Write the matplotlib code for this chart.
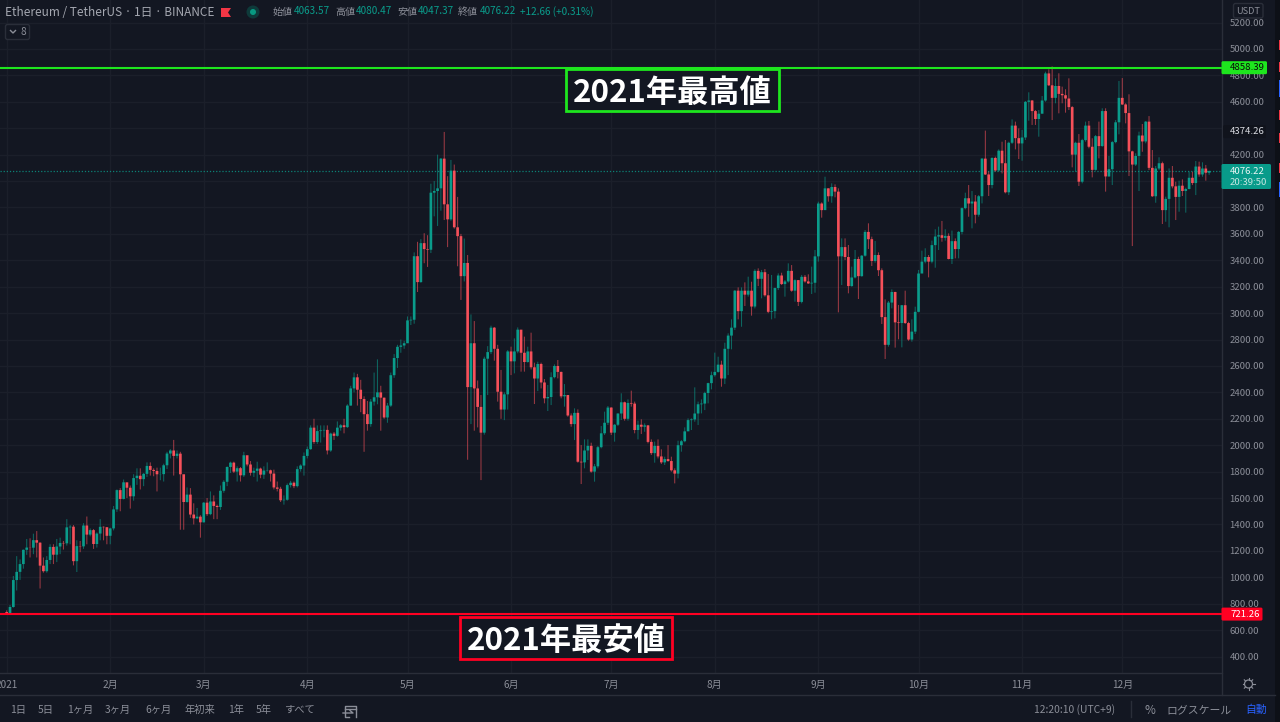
import matplotlib
matplotlib.use("Agg")
import matplotlib.pyplot as plt
from matplotlib.patches import Rectangle, FancyBboxPatch, Circle, Polygon

plt.rcParams['font.family'] = ['Noto Sans CJK JP', 'DejaVu Sans']

# daily candles 2021 (open = previous close)
first_open = 737

close_jan = [729,775,979,1041,1100,1208,1225,1224,1281,1262,1088,1046,1131,1230,1171,1233,1260,1257,1378,1383,1122,1236,1234,1392,1323,1357,1252,1331,1382,1379,1314]
high_jan = [750,790,1010,1160,1135,1210,1290,1295,1330,1350,1265,1150,1160,1250,1250,1290,1300,1275,1440,1395,1395,1280,1275,1410,1460,1370,1365,1340,1440,1385,1380]
low_jan = [716,718,770,900,980,1065,1170,1150,1175,1150,915,1035,1035,1100,1100,1115,1175,1210,1240,1250,1090,1040,1190,1215,1250,1310,1215,1225,1280,1280,1250]

close_feb = [1370,1514,1660,1593,1719,1678,1613,1751,1769,1743,1783,1843,1813,1805,1780,1781,1848,1937,1960,1919,1936,1780,1570,1626,1475,1446,1459,1416]
high_feb = [1375,1540,1665,1675,1740,1690,1695,1780,1825,1825,1790,1870,1870,1825,1830,1830,1860,1950,1970,2040,1960,1950,1700,1680,1675,1560,1525,1470]
low_feb = [1250,1355,1495,1500,1590,1600,1520,1580,1700,1665,1690,1760,1770,1765,1650,1735,1725,1820,1900,1770,1900,1360,1360,1565,1450,1400,1440,1300]

close_mar = [1565,1478,1574,1540,1532,1655,1723,1835,1868,1800,1826,1772,1924,1854,1791,1806,1823,1777,1808,1810,1785,1680,1670,1583,1587,1698,1716,1690,1819,1846,1919]
high_mar = [1570,1600,1650,1620,1550,1695,1735,1840,1875,1875,1840,1835,1950,1890,1880,1830,1875,1830,1840,1870,1815,1815,1725,1685,1620,1710,1730,1725,1840,1855,1945]
low_mar = [1415,1465,1470,1440,1440,1510,1640,1690,1790,1790,1725,1725,1760,1840,1770,1760,1725,1750,1745,1800,1725,1665,1650,1570,1550,1580,1680,1675,1680,1800,1770]

close_apr = [1970,2133,2024,2107,2112,2116,1960,2088,2071,2133,2151,2137,2300,2430,2514,2420,2350,2235,2160,2330,2363,2400,2360,2210,2300,2530,2660,2745,2755,2772]
high_apr = [1990,2150,2200,2150,2150,2150,2150,2095,2100,2180,2160,2200,2310,2450,2550,2540,2495,2370,2335,2350,2550,2650,2450,2360,2320,2550,2690,2760,2800,2790]
low_apr = [1900,1965,2010,2010,2020,2060,1930,1950,2040,2065,2110,2090,2130,2300,2400,2300,2250,1950,2110,2140,2300,2310,2110,2200,2170,2290,2510,2585,2700,2730]

close_may = [2945,2950,3431,3235,3530,3485,3480,3912,3925,3945,4170,3824,3710,4079,3650,3583,3280,3380,2440,2772,2430,2290,2095,2655,2705,2890,2730,2405,2270,2385,2710]
high_may = [2975,2975,3460,3540,3560,3605,3590,3980,4000,4200,4175,4372,4037,4160,4125,3880,3600,3565,3440,2990,2940,2490,2380,2670,2750,2905,2895,2760,2570,2400,2720]
low_may = [2865,2910,2920,3160,3230,3378,3350,3455,3733,3660,3776,3705,3500,3700,3640,3355,3100,3240,1890,2160,2110,2135,1736,2080,2380,2690,2640,2330,2200,2190,2270]

close_jun = [2635,2710,2875,2700,2630,2710,2590,2505,2615,2475,2355,2365,2515,2600,2555,2370,2380,2225,2160,2245,1875,1870,1960,1995,1800,1840,1985,2090,2170,2285]
high_jun = [2746,2809,2892,2865,2822,2746,2852,2625,2632,2625,2501,2456,2552,2612,2645,2557,2463,2380,2241,2279,2271,2001,2044,2044,2019,1858,1994,2145,2254,2297]
low_jun = [2531,2544,2696,2557,2557,2625,2574,2312,2410,2430,2317,2259,2304,2506,2506,2355,2292,2216,2140,2039,1868,1706,1825,1888,1792,1724,1825,1976,2077,2153]

close_jul = [2095,2155,2240,2325,2200,2320,2315,2115,2155,2140,2150,2025,1940,1995,1915,1870,1895,1880,1810,1785,2000,2030,2105,2190,2195,2240,2310,2315,2395,2470,2530]
high_jul = [2287,2160,2241,2393,2330,2347,2413,2330,2186,2196,2165,2153,2044,2027,2044,1969,1913,2001,1913,1825,2034,2039,2135,2203,2203,2438,2330,2347,2405,2473,2557]
low_jul = [2077,2027,2145,2191,2186,2186,2292,2090,2044,2085,2102,2014,1926,1868,1900,1858,1850,1875,1800,1711,1749,1951,2022,2115,2115,2178,2153,2241,2266,2317,2423]

close_aug = [2555,2610,2505,2730,2830,2890,3170,3015,3170,3140,3170,3050,3320,3260,3310,3135,3010,3015,3190,3285,3220,3240,3320,3170,3250,3085,3275,3240,3225,3230,3430]
high_aug = [2701,2670,2640,2776,2847,2953,3175,3195,3195,3233,3276,3238,3332,3339,3327,3334,3296,3289,3193,3301,3306,3251,3377,3364,3256,3251,3289,3289,3294,3352,3478]
low_aug = [2519,2549,2443,2463,2531,2726,2872,2953,2897,3054,3125,2981,3036,3205,3112,3125,3000,2953,2961,3175,3213,3125,3231,3162,3087,3054,3074,3231,3221,3145,3155]

close_sep = [3830,3780,3945,3885,3955,3920,3430,3500,3425,3205,3270,3410,3280,3435,3615,3560,3395,3440,3325,2970,2760,3080,3160,2930,2925,3060,2925,2800,2860,3010]
high_sep = [3844,3839,4033,3945,3983,3975,3945,3566,3566,3516,3352,3478,3427,3440,3629,3680,3579,3546,3460,3339,3104,3092,3180,3162,3062,3062,3170,2935,2953,3049]
low_sep = [3390,3723,3781,3844,3836,3877,3006,3213,3402,3150,3200,3263,3107,3276,3428,3486,3357,3382,3281,2918,2653,2746,3036,2739,2802,2741,2918,2791,2784,2842]

close_oct = [3300,3390,3425,3390,3515,3580,3590,3570,3585,3410,3545,3485,3615,3795,3870,3830,3845,3745,3885,4170,4050,3970,4175,4080,4230,4135,3915,4290,4420,4325,4285]
high_oct = [3327,3473,3491,3440,3549,3635,3655,3698,3635,3604,3625,3566,3622,3800,3912,3970,3925,3894,3894,4175,4382,4071,4180,4185,4240,4298,4311,4298,4467,4450,4399]
low_oct = [3006,3306,3377,3271,3377,3344,3478,3541,3549,3407,3372,3415,3415,3597,3786,3730,3642,3680,3730,3831,4046,3887,3945,4071,4071,4058,3907,3894,4281,4240,4167]

close_nov = [4330,4600,4610,4530,4470,4510,4610,4815,4725,4630,4720,4660,4650,4625,4560,4200,4290,3995,4310,4420,4260,4085,4340,4265,4530,4035,4090,4295,4445,4630]
high_nov = [4387,4606,4672,4614,4538,4538,4644,4828,4846,4868,4778,4816,4715,4695,4778,4568,4298,4356,4320,4450,4455,4324,4349,4450,4551,4551,4190,4303,4462,4758]
low_nov = [4154,4311,4457,4425,4425,4336,4513,4601,4720,4462,4589,4513,4589,4518,4538,4104,4071,3963,3983,4298,4248,4028,4079,4172,4260,3920,4033,3970,4286,4354]

close_dec = [4580,4515,4225,4125,4190,4345,4300,4450,4100,3885,4095,4135,3780,3865,4025,3960,3880,3965,3925,3940,4025,3985,4110,4050,4095,4063,4076]
high_dec = [4780,4589,4657,4230,4210,4374,4432,4455,4492,4235,4114,4180,4147,3882,4096,4114,3995,4003,4013,3950,4071,4071,4152,4147,4142,4122,4080]
low_dec = [4576,4437,4038,3508,4114,3925,4222,4286,4084,3880,3836,4084,3675,3692,3650,3945,3705,3768,3887,3761,3937,3970,3894,4033,4033,4003,4047]

closes = close_jan + close_feb + close_mar + close_apr + close_may + close_jun + close_jul + close_aug + close_sep + close_oct + close_nov + close_dec
highs = high_jan + high_feb + high_mar + high_apr + high_may + high_jun + high_jul + high_aug + high_sep + high_oct + high_nov + high_dec
lows = low_jan + low_feb + low_mar + low_apr + low_may + low_jun + low_jul + low_aug + low_sep + low_oct + low_nov + low_dec
opens = [first_open] + closes[:-1]

month_starts = [0, 31, 59, 90, 120, 151, 181, 212, 243, 273, 304, 334]
month_labels = ["2021", "2月", "3月", "4月", "5月", "6月", "7月", "8月", "9月", "10月", "11月", "12月"]
price_ticks = [400, 600, 800, 1000, 1200, 1400, 1600, 1800, 2000, 2200, 2400, 2600, 2800, 3000, 3200,
               3400, 3600, 3800, 4000, 4200, 4400, 4600, 4800, 5000, 5200]
hidden_ticks = [4000, 4400]  # covered by the price tags in the reference
year_high = 4858.39
year_low = 721.26
last_price = 4076.22
view_high = 4374.26

legend_items = [("始値", 273, "4063.57", 294), ("高値", 335, "4080.47", 356), ("安値", 397, "4047.37", 418), ("終値", 458, "4076.22", 480)]
range_labels = [("1日", 18), ("5日", 46), ("1ヶ月", 80), ("3ヶ月", 118), ("6ヶ月", 158), ("年初来", 200), ("1年", 236), ("5年", 264), ("すべて", 299)]

BG = "#131722"
GRID = "#1b1f2a"
SEP = "#2a2e39"
TXT = "#8b8e98"
UP = "#0a9c8b"
DOWN = "#f6505a"
LIME = "#1ee61e"
RED = "#ff0022"

W, H = 1280, 722
fig = plt.figure(figsize=(W / 100, H / 100), dpi=100, facecolor=BG)

# price chart, area 0..1221.5 x 0..673 px
ax = fig.add_axes([0, 1 - 673 / H, 1221.5 / W, 673 / H], facecolor=BG)
ax.set_xlim(-2.0, 363.7)
ax.set_ylim(275.2, 5371)
ax.grid(True, color=GRID, lw=1)
ax.set_axisbelow(True)
for s in ax.spines.values():
    s.set_visible(False)
ax.set_yticks(price_ticks)
ax.set_yticklabels(["" if p in hidden_ticks else f"{p:.2f}" for p in price_ticks], color=TXT, fontsize=6.9)
ax.yaxis.tick_right()
ax.set_xticks(month_starts)
ax.set_xticklabels(month_labels, color=TXT, fontsize=7.2)
ax.tick_params(axis="both", length=0)
ax.tick_params(axis="y", pad=5.8)
ax.tick_params(axis="x", pad=5)

days = list(range(len(closes)))
for d in days:
    col = UP if closes[d] >= opens[d] else DOWN
    wick = ax.vlines(d, lows[d], highs[d], color=col, lw=0.75, alpha=0.6, zorder=2)
    wick.set_snap(False)
    ax.bar(d, abs(closes[d] - opens[d]), bottom=min(opens[d], closes[d]), width=0.8, color=col, lw=0, zorder=3, snap=False)

ax.axhline(last_price, color=UP, lw=0.9, ls=(0, (1, 1.5)), alpha=0.8, zorder=1)
ax.axhline(year_high, color=LIME, lw=1.5, zorder=4)
ax.axhline(year_low, color=RED, lw=1.5, zorder=4)

# overlay in pixels for the terminal chrome
ov = fig.add_axes([0, 0, 1, 1], facecolor="none")
ov.set_xlim(0, W)
ov.set_ylim(H, 0)
ov.axis("off")


def price_y(p):
    return 673 * (5371 - p) / (5371 - 275.2)


ov.plot([0, 1221.5], [673, 673], color=SEP, lw=1)
ov.plot([1221.5, 1221.5], [0, 695], color=SEP, lw=1)
ov.plot([0, 1275], [695, 695], color=SEP, lw=1)
ov.plot([1131, 1131], [701, 717], color=SEP, lw=1)
ov.add_patch(Rectangle((1275, 0), 5, H, color="#0d1017", lw=0))
for y0, y1, c in [(40, 50, "#f23645"), (62, 72, "#f23645"), (80, 97, "#2962ff"), (110, 120, "#f23645"),
                  (133, 143, "#f23645"), (163, 173, "#f23645"), (182, 197, "#2962ff")]:
    ov.add_patch(Rectangle((1279, y0), 1, y1 - y0, color=c, lw=0))


def tag(x0, x1, y0, y1, col):
    ov.add_patch(FancyBboxPatch((x0, y0), x1 - x0, y1 - y0, boxstyle="round,pad=0,rounding_size=1.5",
                                fc=col, ec="none", zorder=5))


y = price_y(year_high)
tag(1221.5, 1267, y - 6.5, y + 6.5, LIME)
ov.text(1229.5, y, f"{year_high:.2f}", color="#0a0a0a", fontsize=6.9, ha="left", va="center", zorder=6)
y = price_y(year_low)
tag(1221.5, 1262.5, y - 6.5, y + 6.5, RED)
ov.text(1230, y, f"{year_low:.2f}", color="white", fontsize=6.9, ha="left", va="center", zorder=6)
y = price_y(last_price)
tag(1221.5, 1271, y - 7, y + 18, "#089b8a")
ov.text(1229.5, y, f"{last_price:.2f}", color="#e8f5f3", fontsize=6.9, ha="left", va="center", zorder=6)
ov.text(1229.5, y + 11, "20:39:50", color="#c5e6e1", fontsize=6.9, ha="left", va="center", zorder=6)
y = price_y(view_high)
tag(1223, 1266, y - 6.5, y + 6.5, "#10131c")
ov.text(1229.5, y, f"{view_high:.2f}", color="#d8dae0", fontsize=6.9, ha="left", va="center", zorder=6)

# USDT button
ov.add_patch(FancyBboxPatch((1233.5, 3.5), 29.5, 14.5, boxstyle="round,pad=0,rounding_size=2",
                            fc=BG, ec=SEP, lw=1, zorder=5))
ov.text(1248.5, 11, "USDT", color=TXT, fontsize=6.6, ha="center", va="center", zorder=6)

# big labels
for x0, x1, y0, y1, col, lab in [(566, 779, 69, 111, LIME, "2021年最高値"), (460, 672, 617, 659, RED, "2021年最安値")]:
    ov.add_patch(Rectangle((x0, y0), x1 - x0, y1 - y0, fc=BG, ec=col, lw=2, zorder=7))
    ov.text((x0 + x1) / 2, (y0 + y1) / 2 + 3, lab, color="white", fontsize=22.5, fontweight="bold",
            ha="center", va="center", zorder=8)

# header
ov.text(5, 12, "Ethereum / TetherUS · 1日 · BINANCE", color="#a4a7b0", fontsize=8.5, ha="left", va="center")
ov.add_patch(Polygon([(221, 8), (231, 8), (228, 12.5), (231, 17), (221, 17)], color="#f23645", lw=0))
ov.add_patch(Circle((253, 12), 6.5, color="#0e3a3a", lw=0))
ov.add_patch(Circle((253, 12), 3, color="#089981", lw=0))
for lab, lx, val, vx in legend_items:
    ov.text(lx, 11.5, lab, color=TXT, fontsize=7.2, ha="left", va="center")
    ov.text(vx, 11.5, val, color=UP, fontsize=7.2, ha="left", va="center")
ov.text(520, 11.5, "+12.66 (+0.31%)", color=UP, fontsize=7.2, ha="left", va="center")

ov.add_patch(FancyBboxPatch((5.5, 24.5), 24, 15, boxstyle="round,pad=0,rounding_size=2", fc=BG, ec=SEP, lw=1))
ov.plot([10.5, 13, 15.5], [30.5, 33, 30.5], color=TXT, lw=1)
ov.text(23.5, 32, "8", color=TXT, fontsize=7.2, ha="center", va="center")

# bottom toolbar
for lab, lx in range_labels:
    ov.text(lx, 710, lab, color=TXT, fontsize=7.4, ha="center", va="center")
ov.plot([349, 345, 345, 356, 356], [717, 717, 706, 706, 717], color=TXT, lw=1)
ov.plot([345, 356], [709, 709], color=TXT, lw=1)
ov.plot([343, 353, 350], [713, 713, 710.5], color=TXT, lw=1)
ov.text(1075, 710, "12:20:10 (UTC+9)", color=TXT, fontsize=7.4, ha="center", va="center")
ov.text(1150, 710, "%", color=TXT, fontsize=8.5, ha="center", va="center")
ov.text(1199, 710, "ログスケール", color=TXT, fontsize=7.8, ha="center", va="center")
ov.text(1256, 710, "自動", color="#2962ff", fontsize=7.8, ha="center", va="center")

# settings gear
ov.add_patch(Circle((1248.5, 684), 4, fc="none", ec=TXT, lw=0.9))
for dx, dy in [(0, -6), (0, 6), (-6, 0), (6, 0), (-4.2, -4.2), (4.2, -4.2), (-4.2, 4.2), (4.2, 4.2)]:
    ov.plot([1248.5 + dx * 0.7, 1248.5 + dx], [684 + dy * 0.7, 684 + dy], color=TXT, lw=0.8)

fig.savefig("out.png", dpi=100, facecolor=BG)
